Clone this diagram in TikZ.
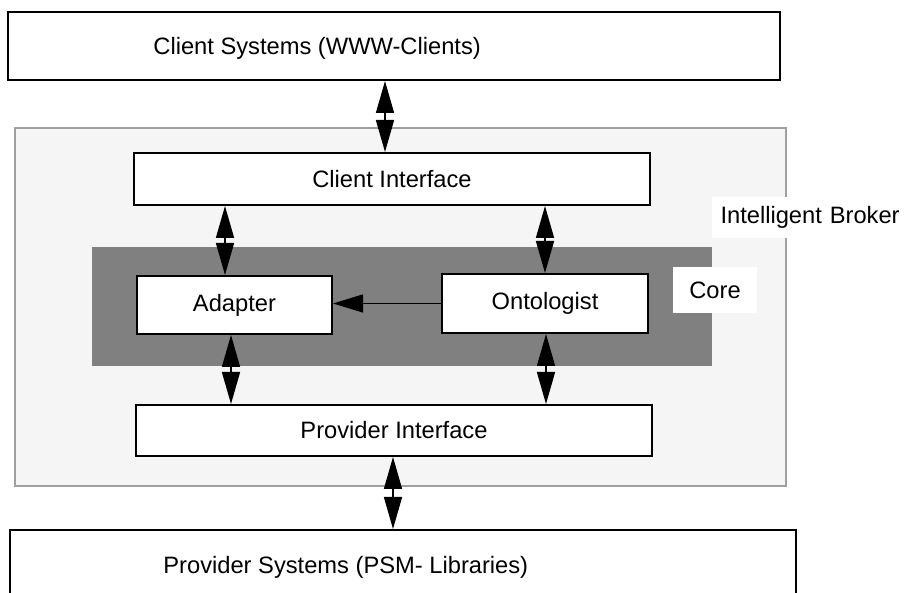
\documentclass[tikz,border=0pt]{standalone}
\usepackage{fontspec}
\setmainfont{Liberation Sans}
\usetikzlibrary{arrows.meta}
\definecolor{brokerfill}{HTML}{F5F5F5}
\definecolor{brokerline}{HTML}{A0A0A0}
\definecolor{corefill}{HTML}{808080}
\tikzset{
  box/.style={draw=black, line width=1pt, fill=white, inner sep=0pt},
  txt/.style={font=\fontsize{11.85}{14}\selectfont, inner sep=0pt},
  lbl/.style={fill=white, inner sep=0pt, font=\fontsize{11.85}{14}\selectfont},
  dbl/.style={line width=0.75pt, {Triangle[length=16pt,width=9pt]}-{Triangle[length=16pt,width=9pt]}},
  sgl/.style={line width=0.75pt, -{Triangle[length=15pt,width=9pt]}}
}
\begin{document}
\begin{tikzpicture}[x=0.5pt,y=-0.5pt]
\useasboundingbox (0,0) rectangle (906,593);
% Intelligent Broker region
\node[draw=brokerline, line width=0.75pt, fill=brokerfill, minimum width=385.5pt, minimum height=179pt, inner sep=0pt] (broker) at (400.5,307) {};
% Core region
\node[fill=corefill, minimum width=310pt, minimum height=59.5pt, inner sep=0pt] (core) at (402,306.5) {};
% boxes
\node[box, minimum width=386pt, minimum height=34pt] (cs) at (394,46) {};
\node[txt, anchor=west] (cstext) at (153,48) {Client Systems (WWW-Clients)};
\node[box, txt, minimum width=258pt, minimum height=26pt] (ci) at (392,179) {Client Interface};
\node[box, txt, minimum width=97.5pt, minimum height=29pt] (adapter) at (234.5,305) {Adapter};
\node[box, txt, minimum width=103pt, minimum height=29.5pt] (onto) at (545,303.5) {Ontologist};
\node[box, txt, minimum width=258pt, minimum height=25.5pt] (pi) at (394,430.5) {Provider Interface};
\node[box, minimum width=393pt, minimum height=34pt] (ps) at (403,564) {};
\node[txt, anchor=west] (pstext) at (163,567) {Provider Systems (PSM- Libraries)};
% labels
\node[lbl, minimum width=95pt, minimum height=20.5pt, text width=90.5pt, align=left, inner xsep=4.5pt] (iblabel) at (811,217.5) {Intelligent Broker};
\node[lbl, minimum width=42pt, minimum height=23pt] (corelabel) at (715,290) {Core};
% arrow x positions
\coordinate (a1) at (385,0);
\coordinate (a2) at (225,0);
\coordinate (a3) at (545,0);
\coordinate (a4) at (231,0);
\coordinate (a5) at (546,0);
\coordinate (a6) at (393,0);
% connectors
\draw[dbl] (cs.south -| a1) -- (ci.north -| a1);
\draw[dbl] (ci.south -| a2) -- (adapter.north -| a2);
\draw[dbl] (ci.south -| a3) -- (onto.north -| a3);
\draw[dbl] (adapter.south -| a4) -- (pi.north -| a4);
\draw[dbl] (onto.south -| a5) -- (pi.north -| a5);
\draw[dbl] (pi.south -| a6) -- (ps.north -| a6);
\draw[sgl] (onto.west) -- (onto.west -| adapter.east);
\end{tikzpicture}
\end{document}
